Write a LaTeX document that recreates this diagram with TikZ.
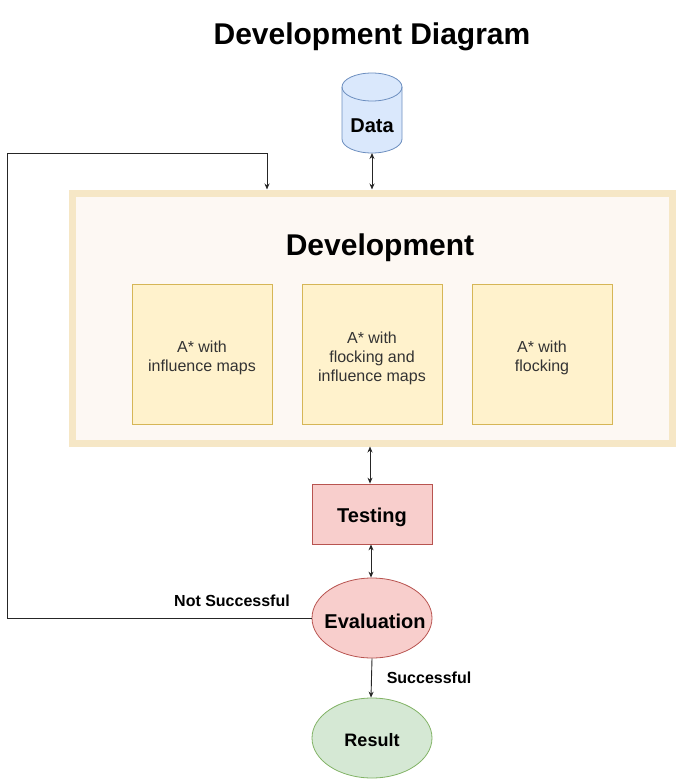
\documentclass[tikz,border=0pt]{standalone}
\usepackage{fontspec}
\setmainfont{Liberation Sans}
\usetikzlibrary{arrows.meta,shapes.geometric}
\definecolor{devborder}{HTML}{F6E7C6}
\definecolor{devfill}{HTML}{FDF8F3}
\definecolor{yfill}{HTML}{FFF2CC}
\definecolor{ydraw}{HTML}{D6B656}
\definecolor{bfill}{HTML}{DAE8FC}
\definecolor{bdraw}{HTML}{6C8EBF}
\definecolor{rfill}{HTML}{F8CECC}
\definecolor{rdraw}{HTML}{B85450}
\definecolor{gfill}{HTML}{D5E8D4}
\definecolor{gdraw}{HTML}{82B366}
\definecolor{txt}{HTML}{333333}
\tikzset{
  conn/.style={draw=black!85, line width=0.9pt},
  tip/.style={-{Stealth[length=6pt,width=5pt]}},
  btip/.style={{Stealth[length=6pt,width=5pt]}-{Stealth[length=6pt,width=5pt]}},
  algobox/.style={rectangle, draw=ydraw, fill=yfill, line width=0.8pt, minimum width=140pt, minimum height=140pt, inner sep=0pt},
  algotext/.style={align=center, font=\fontsize{16}{19}\selectfont, text=txt, inner sep=0pt},
  shapeell/.style={ellipse, line width=0.8pt, minimum width=120pt, minimum height=80pt, inner sep=0pt},
  lbl/.style={font=\bfseries\fontsize{16}{19}\selectfont, inner sep=0pt}
}
\begin{document}
\begin{tikzpicture}[x=1pt,y=-1pt]
\useasboundingbox (0,0) rectangle (676,779);
% title
\node[font=\bfseries\fontsize{30}{34}\selectfont, inner sep=0pt] (title) at (372,37) {Development Diagram};
% data cylinder
\path[fill=bfill, draw=bdraw, line width=0.8pt] (342,87) -- (342,139) arc[start angle=180, end angle=0, x radius=30, y radius=14] -- (402,87) arc[start angle=0, end angle=-180, x radius=30, y radius=14] -- cycle;
\draw[bdraw, line width=0.8pt] (342,87) arc[start angle=180, end angle=0, x radius=30, y radius=14];
\node[minimum width=60pt, minimum height=80pt, inner sep=0pt, outer sep=0pt] (data) at (372,113) {};
\node[font=\bfseries\fontsize{20}{24}\selectfont, inner sep=0pt] (datalbl) at (372,126) {Data};
% development box
\node[rectangle, draw=devborder, fill=devfill, line width=7pt, minimum width=600pt, minimum height=250pt, inner sep=0pt] (dev) at (372,318) {};
\node[font=\bfseries\fontsize{30}{34}\selectfont, inner sep=0pt] (devlbl) at (380,248) {Development};
\node[algobox] (a1) at (202,354) {};
\node[algobox] (a2) at (372,354) {};
\node[algobox] (a3) at (542,354) {};
\node[algotext] (t1) at (202,358) {A* with\\influence maps};
\node[algotext] (t2) at (372,358) {A* with\\flocking and\\influence maps};
\node[algotext] (t3) at (542,358) {A* with\\flocking};
% testing
\node[rectangle, draw=rdraw, fill=rfill, line width=0.8pt, minimum width=120pt, minimum height=60pt, inner sep=0pt] (test) at (372,514) {};
\node[font=\bfseries\fontsize{20}{24}\selectfont, inner sep=0pt] (testlbl) at (372,517) {Testing};
% evaluation
\node[shapeell, draw=rdraw, fill=rfill] (eval) at (372,618) {};
\node[font=\bfseries\fontsize{20}{24}\selectfont, inner sep=0pt] (evallbl) at (375,621) {Evaluation};
% result
\node[shapeell, draw=gdraw, fill=gfill] (res) at (372,738) {};
\node[font=\bfseries\fontsize{18}{22}\selectfont, inner sep=0pt] (reslbl) at (372,740) {Result};
% connectors
\draw[conn, btip] (data.south) -- (data.south |- dev.north);
\draw[conn, btip] ([xshift=-2pt]dev.south) -- ([xshift=-2pt]test.north);
\draw[conn, btip] ([xshift=-1pt]test.south) -- ([xshift=-1pt]eval.north);
\draw[conn, tip] (eval.south) -- ([xshift=-1pt]res.north);
\coordinate (lb) at (7,618);
\coordinate (lt) at (7,153);
\coordinate (rt) at (267,153);
\draw[conn, tip] (eval.west) -- (lb) -- (lt) -- (rt) -- (rt |- dev.north);
% labels
\node[lbl] (ns) at (232,601) {Not Successful};
\node[lbl] (su) at (429,678) {Successful};
\end{tikzpicture}
\end{document}
